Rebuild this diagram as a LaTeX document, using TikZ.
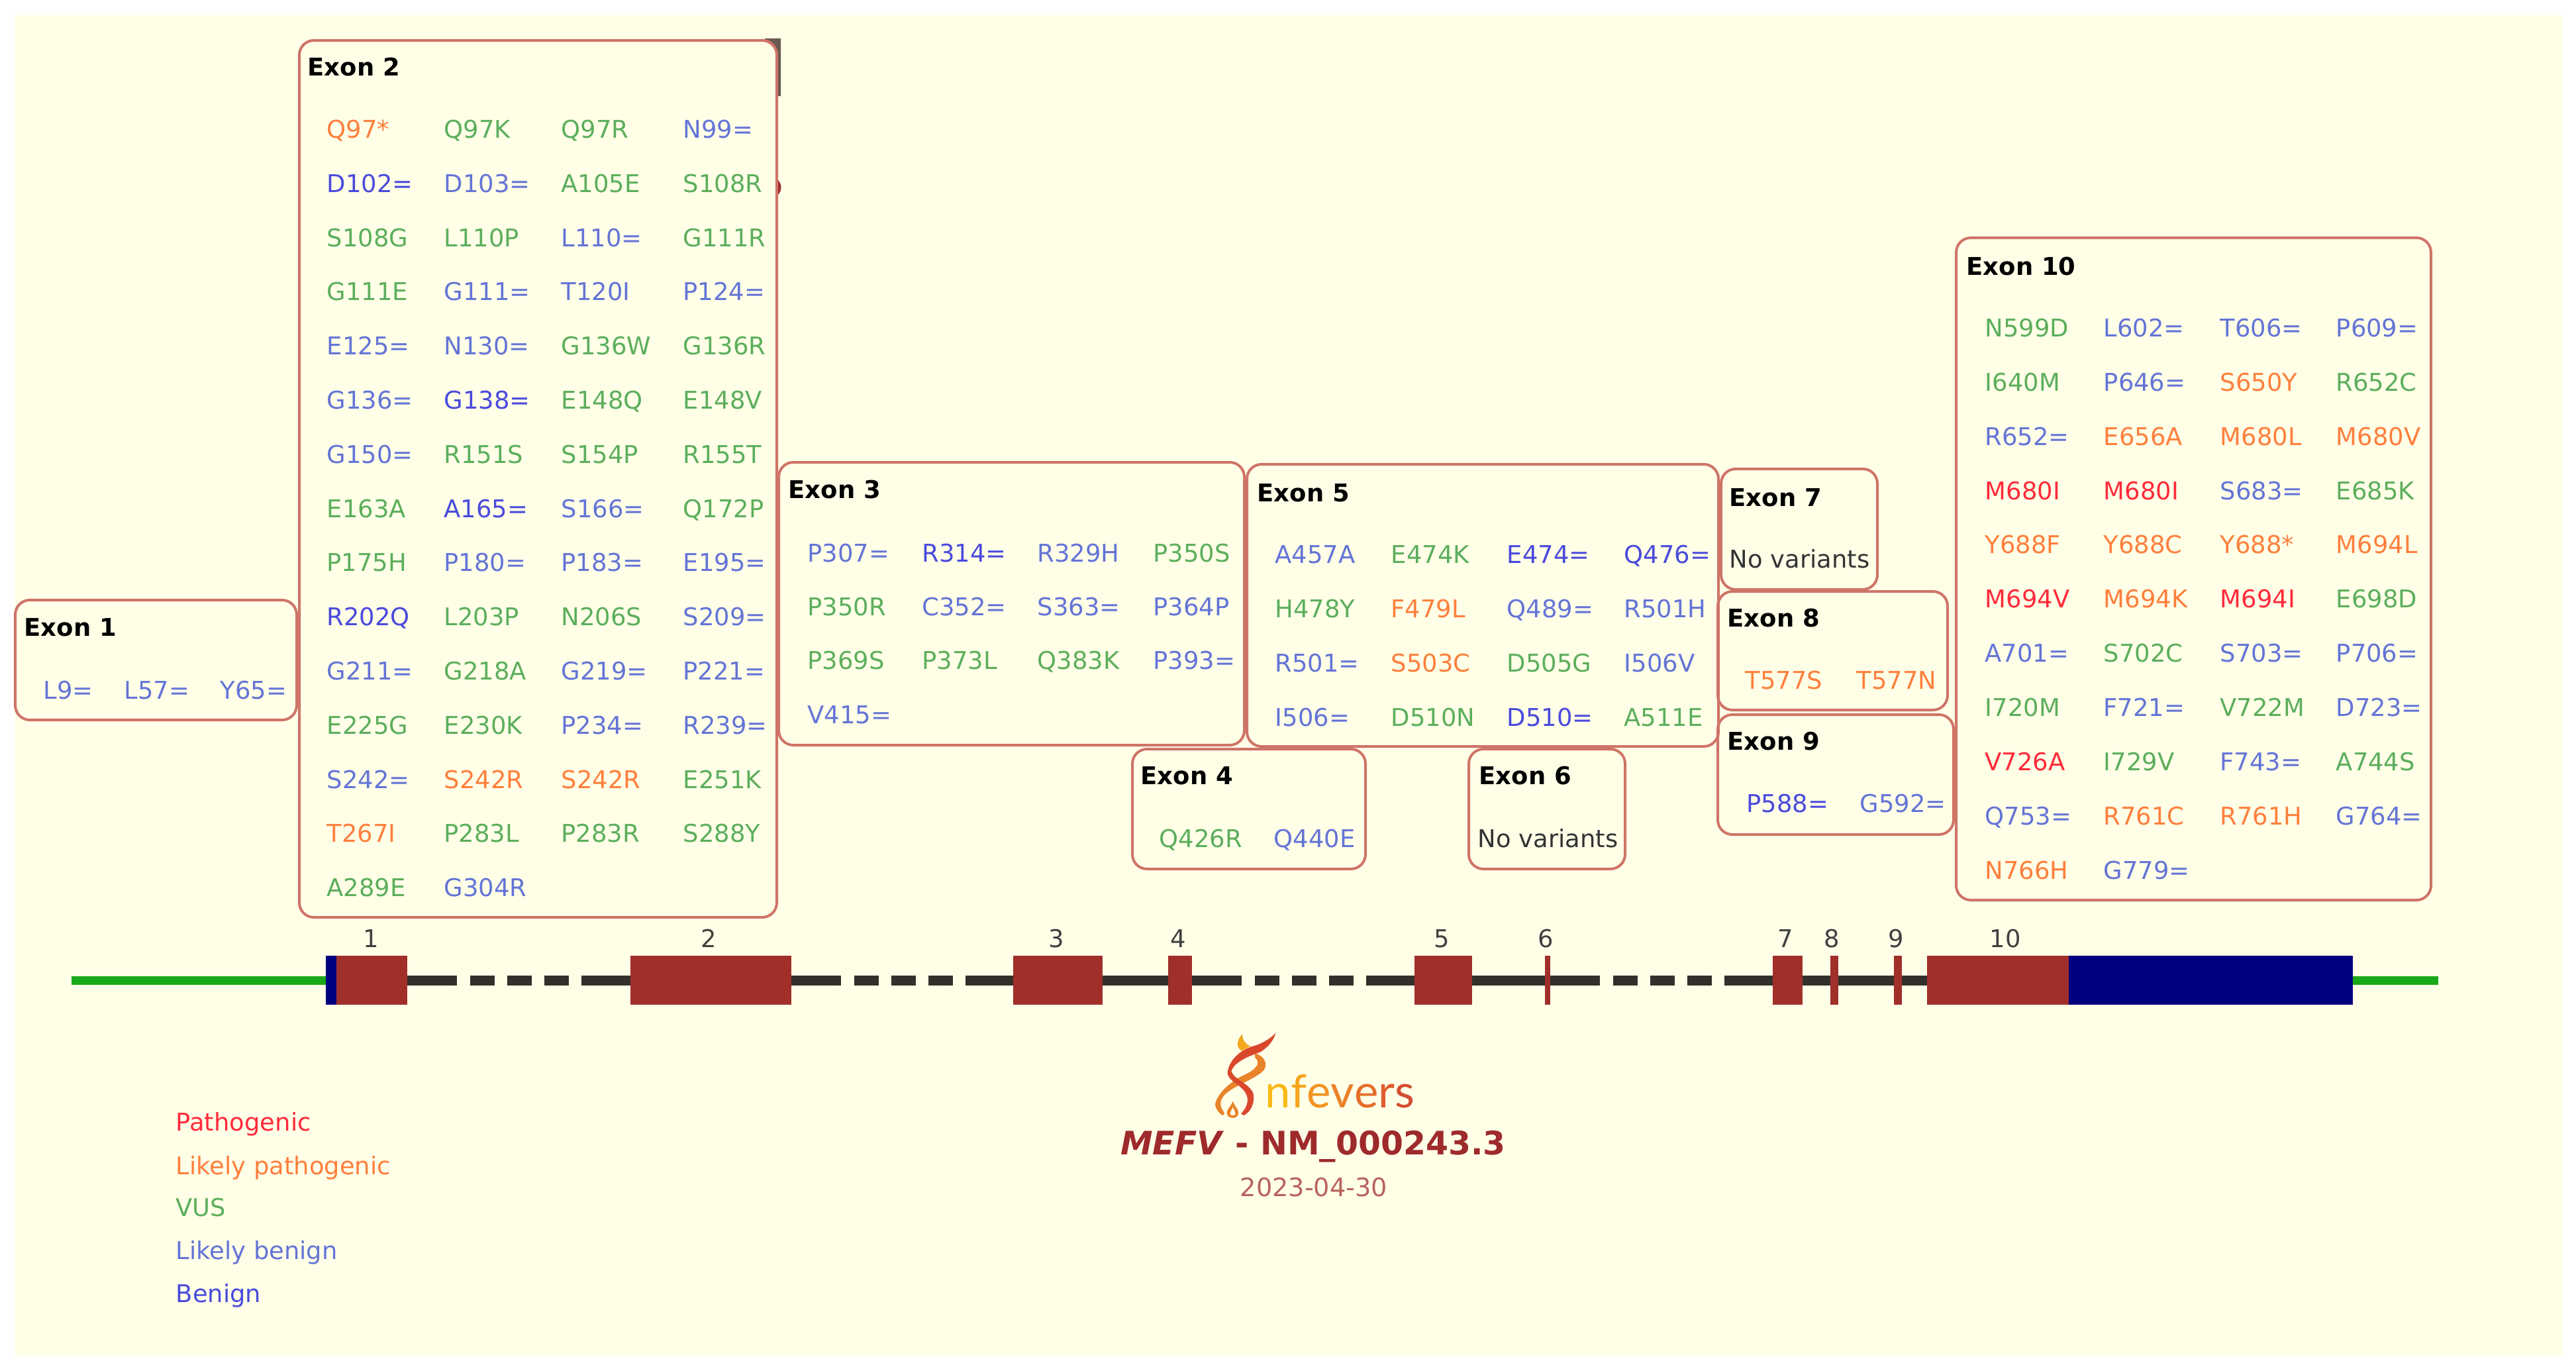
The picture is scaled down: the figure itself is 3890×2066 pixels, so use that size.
\documentclass[tikz,border=0pt]{standalone}
\usepackage{fontspec}
\usepackage{tikz}
\usepackage{xcolor}
\setmainfont{DejaVu Sans}
\newfontfamily\logofont{Lato}
\definecolor{cream}{HTML}{FFFFE8}
\definecolor{boxline}{HTML}{CF7468}
\definecolor{brick}{HTML}{A02F2A}
\definecolor{navyutr}{HTML}{00007F}
\definecolor{greenline}{HTML}{18A818}
\definecolor{intronline}{HTML}{33302B}
\definecolor{cornerdark}{HTML}{6B5A52}
\definecolor{pthcol}{HTML}{FF2A3A}
\definecolor{lpthcol}{HTML}{FF7F3C}
\definecolor{vuscol}{HTML}{5CAE5C}
\definecolor{lbencol}{HTML}{6474D6}
\definecolor{bencol}{HTML}{4A4ADC}
\definecolor{titlecol}{HTML}{9E2A2B}
\definecolor{datecol}{HTML}{B8645E}
\definecolor{logored}{HTML}{D9482B}
\definecolor{logoorange}{HTML}{E8832A}
\definecolor{logoyellow}{HTML}{F3A81E}
\tikzset{
    exonbox/.style={draw=boxline,line width=0.04cm,rounded corners=0.22cm},
    textline/.style={anchor=west,inner sep=0pt,text height=8pt,text depth=0pt,font=\fontsize{10.5}{12}\selectfont},
    exontitle/.style={textline,font=\fontsize{10.5}{12}\selectfont\bfseries,text=black},
    novar/.style={textline,text=black!80},
    pth/.style={textline,text=pthcol},
    lpth/.style={textline,text=lpthcol},
    vus/.style={textline,text=vuscol},
    lben/.style={textline,text=lbencol},
    ben/.style={textline,text=bencol},
    exon/.style={anchor=west,fill=brick,inner sep=0pt,outer sep=0pt,minimum height=0.73cm},
    utr/.style={exon,fill=navyutr},
    exonnum/.style={inner sep=0pt,text=black!75,font=\fontsize{10.5}{12}\selectfont},
    intron/.style={draw=intronline,line width=0.15cm},
    intronbreak/.style={intron,dash pattern=on .75cm off .2cm on .37cm off .19cm on .37cm off .19cm on .37cm off .19cm on .75cm},
    utrline/.style={draw=greenline,line width=0.13cm}
}
\newcommand{\variantgrid}[5]{
    \foreach \items [count=\rw from 0] in {#5}{
        \foreach \txt/\kind [count=\col] in \items{
            \pgfmathsetmacro\vx{{#2}[\col-1]}
            \pgfmathsetmacro\vy{#3+#4*\rw}
            \node[\kind] (#1-\rw-\col) at (\vx,\vy) {\txt};
        }
    }
}

\begin{document}
\begin{tikzpicture}[x=0.01cm,y=-0.01cm]
    \useasboundingbox (0,0) rectangle (3890,2066);
    \fill[white] (0,0) rectangle (3890,2066);
    \fill[cream] (22,23) rectangle (3870,2047);

    \draw[exonbox] (23,906) rectangle (448,1087);
    \node[exontitle] (titleA) at (36,946) {Exon 1};
    \variantgrid{exA}{65,187,332}{1041}{0}{{L9=/lben,L57=/lben,Y65=/lben}}

    \fill[cornerdark] (1155,58)--(1179,58)--(1179,145)--(1174,145)--(1174,82) .. controls (1174,70) and (1165,60) .. (1155,60)--cycle;
    \fill[brick] (1175,272) .. controls (1181,278) and (1181,288) .. (1175,294)--cycle;
    \draw[exonbox] (452,61) rectangle (1173,1385);
    \node[exontitle] (titleB) at (464,100) {Exon 2};
    \variantgrid{exB}{493,670,847,1031}{194.5}{81.8}{
        {Q97*/lpth,Q97K/vus,Q97R/vus,N99=/lben},
        {D102=/ben,D103=/lben,A105E/vus,S108R/vus},
        {S108G/vus,L110P/vus,L110=/lben,G111R/vus},
        {G111E/vus,G111=/lben,T120I/lben,P124=/lben},
        {E125=/lben,N130=/lben,G136W/vus,G136R/vus},
        {G136=/lben,G138=/ben,E148Q/vus,E148V/vus},
        {G150=/lben,R151S/vus,S154P/vus,R155T/vus},
        {E163A/vus,A165=/ben,S166=/lben,Q172P/vus},
        {P175H/vus,P180=/lben,P183=/lben,E195=/lben},
        {R202Q/ben,L203P/vus,N206S/vus,S209=/lben},
        {G211=/lben,G218A/vus,G219=/lben,P221=/lben},
        {E225G/vus,E230K/vus,P234=/lben,R239=/lben},
        {S242=/lben,S242R/lpth,S242R/lpth,E251K/vus},
        {T267I/lpth,P283L/vus,P283R/vus,S288Y/vus},
        {A289E/vus,G304R/lben}}

    \draw[exonbox] (1176,698) rectangle (1879,1125);
    \node[exontitle] (titleC) at (1190,738) {Exon 3};
    \variantgrid{exC}{1219,1392,1566,1741}{834}{81.4}{
        {P307=/lben,R314=/ben,R329H/lben,P350S/vus},
        {P350R/vus,C352=/lben,S363=/lben,P364P/lben},
        {P369S/vus,P373L/vus,Q383K/vus,P393=/lben},
        {V415=/lben}}

    \draw[exonbox] (1710,1131) rectangle (2062,1312);
    \node[exontitle] (titleD) at (1722,1170) {Exon 4};
    \variantgrid{exD}{1750,1923}{1265}{0}{{Q426R/vus,Q440E/lben}}

    \draw[exonbox] (1883,701) rectangle (2595,1127);
    \node[exontitle] (titleE) at (1898,743) {Exon 5};
    \variantgrid{exE}{1925,2100,2275,2452}{836}{82}{
        {A457A/lben,E474K/vus,E474=/ben,Q476=/ben},
        {H478Y/vus,F479L/lpth,Q489=/lben,R501H/lben},
        {R501=/lben,S503C/lpth,D505G/vus,I506V/lben},
        {I506=/lben,D510N/vus,D510=/ben,A511E/vus}}

    \draw[exonbox] (2218,1131) rectangle (2454,1312);
    \node[exontitle] (titleF) at (2233,1170) {Exon 6};
    \node[novar] (noneF) at (2231,1265) {No variants};

    \draw[exonbox] (2599,708) rectangle (2835,890);
    \node[exontitle] (titleG) at (2611,750) {Exon 7};
    \node[novar] (noneG) at (2611,843) {No variants};

    \draw[exonbox] (2594,893) rectangle (2941,1072);
    \node[exontitle] (titleH) at (2608,932) {Exon 8};
    \variantgrid{exH}{2635,2803}{1026}{0}{{T577S/lpth,T577N/lpth}}

    \draw[exonbox] (2594,1079) rectangle (2950,1260);
    \node[exontitle] (titleI) at (2608,1118) {Exon 9};
    \variantgrid{exI}{2637,2808}{1212}{0}{{P588=/ben,G592=/lben}}

    \draw[exonbox] (2954,359) rectangle (3671,1359);
    \node[exontitle] (titleJ) at (2969,401) {Exon 10};
    \variantgrid{exJ}{2997,3176,3352,3527}{494.5}{81.85}{
        {N599D/vus,L602=/lben,T606=/lben,P609=/lben},
        {I640M/vus,P646=/lben,S650Y/lpth,R652C/vus},
        {R652=/lben,E656A/lpth,M680L/lpth,M680V/lpth},
        {M680I/pth,M680I/pth,S683=/lben,E685K/vus},
        {Y688F/lpth,Y688C/lpth,Y688*/lpth,M694L/lpth},
        {M694V/pth,M694K/lpth,M694I/pth,E698D/vus},
        {A701=/lben,S702C/vus,S703=/lben,P706=/lben},
        {I720M/vus,F721=/lben,V722M/vus,D723=/lben},
        {V726A/pth,I729V/vus,F743=/lben,A744S/vus},
        {Q753=/lben,R761C/lpth,R761H/lpth,G764=/lben},
        {N766H/lpth,G779=/lben}}

    \coordinate (lineA) at (108,1480);
    \coordinate (lineB) at (3682,1480);
    \node[utr,minimum width=0.16cm] (utrA) at (492,1480) {};
    \node[exon,minimum width=1.07cm] (ex1) at (508,1480) {};
    \node[exon,minimum width=2.43cm] (ex2) at (952,1480) {};
    \node[exon,minimum width=1.35cm] (ex3) at (1530,1480) {};
    \node[exon,minimum width=0.36cm] (ex4) at (1764,1480) {};
    \node[exon,minimum width=0.87cm] (ex5) at (2136,1480) {};
    \node[exon,minimum width=0.08cm] (ex6) at (2333,1480) {};
    \node[exon,minimum width=0.45cm] (ex7) at (2677,1480) {};
    \node[exon,minimum width=0.12cm] (ex8) at (2764,1480) {};
    \node[exon,minimum width=0.12cm] (ex9) at (2860,1480) {};
    \node[exon,minimum width=2.14cm] (ex10) at (2910,1480) {};
    \node[utr,minimum width=4.29cm] (utrB) at (3124,1480) {};
    \draw[utrline] (lineA)--(utrA);
    \draw[utrline] (utrB)--(lineB);
    \draw[intronbreak] (ex1)--(ex2);
    \draw[intronbreak] (ex2)--(ex3);
    \draw[intron] (ex3)--(ex4);
    \draw[intronbreak] (ex4)--(ex5);
    \draw[intron] (ex5)--(ex6);
    \draw[intronbreak] (ex6)--(ex7);
    \draw[intron] (ex7)--(ex8);
    \draw[intron] (ex8)--(ex9);
    \draw[intron] (ex9)--(ex10);

    \foreach \n/\x in {1/560,2/1070,3/1595,4/1779,5/2177,6/2334,7/2696,8/2766,9/2863,10/3028}
        \node[exonnum] (num\n) at (\x,1417) {\n};

    \node[pth] (legA) at (265,1693) {Pathogenic};
    \node[lpth] (legB) at (265,1759) {Likely pathogenic};
    \node[vus] (legC) at (265,1822) {VUS};
    \node[lben] (legD) at (265,1887) {Likely benign};
    \node[ben] (legE) at (265,1952) {Benign};

    \begin{scope}[shift={(1810,1540)},scale=1/3]
        \fill[logoyellow] (197,65) .. controls (170,95) and (170,125) .. (195,140)--(235,118) .. controls (210,110) and (200,90) .. (197,65)--cycle;
        \fill[logoorange] (255,150) .. controls (300,165) and (315,200) .. (295,228) .. controls (270,255) and (210,280) .. (200,288) .. controls (130,320) and (95,350) .. (100,385) .. controls (103,405) and (115,415) .. (118,425)--(108,432) .. controls (90,420) and (75,400) .. (75,382) .. controls (85,330) and (150,275) .. (205,250) .. controls (260,225) and (285,195) .. (255,170)--cycle;
        \fill[logored] (350,58) .. controls (330,80) and (300,100) .. (260,115) .. controls (190,130) and (135,185) .. (131,240) .. controls (135,285) and (215,295) .. (222,360) .. controls (222,390) and (205,410) .. (192,425)--(205,432) .. controls (240,415) and (255,370) .. (248,335) .. controls (235,290) and (160,270) .. (148,232) .. controls (160,195) and (210,170) .. (280,145) .. controls (320,120) and (340,90) .. (350,58)--cycle;
        \fill[logoorange] (155,368) .. controls (145,395) and (125,405) .. (128,425) .. controls (135,450) and (175,450) .. (180,425) .. controls (183,405) and (165,395) .. (155,368)--cycle;
        \fill[cream] (155,395) .. controls (150,410) and (142,415) .. (143,425) .. controls (148,435) and (162,435) .. (167,425) .. controls (168,415) and (160,410) .. (155,395)--cycle;
    \end{scope}
    \node[anchor=base west,inner sep=0pt,font=\logofont\fontsize{19.6}{22}\selectfont] (logotext) at (1910,1672) {\textcolor[HTML]{F9B915}{n}\textcolor[HTML]{F7A61D}{f}\textcolor[HTML]{F29322}{e}\textcolor[HTML]{EC8027}{v}\textcolor[HTML]{E66E2B}{e}\textcolor[HTML]{DF5D2E}{r}\textcolor[HTML]{D44E31}{s}};
    \node[inner sep=0pt,text=titlecol,font=\fontsize{13.9}{16}\selectfont\bfseries] (genetitle) at (1983,1731) {\textit{MEFV} - NM\_000243.3};
    \node[inner sep=0pt,text=datecol,font=\fontsize{10.9}{13}\selectfont] (datetext) at (1984,1793) {2023-04-30};
\end{tikzpicture}
\end{document}
